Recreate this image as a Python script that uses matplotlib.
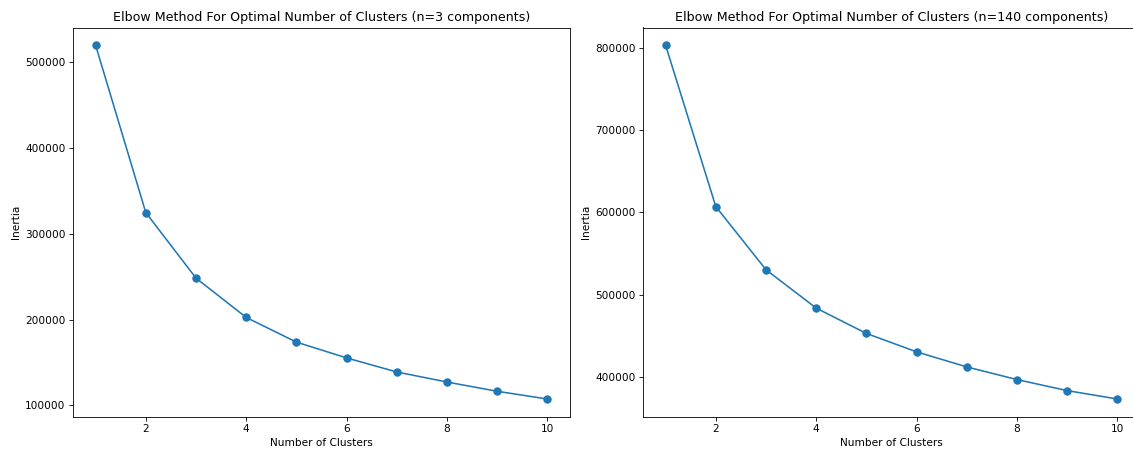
import matplotlib
matplotlib.use("Agg")
import matplotlib.pyplot as plt

# number of clusters tried
k_values = [1, 2, 3, 4, 5, 6, 7, 8, 9, 10]

# inertia
inertia_3 = [519900, 324800, 248400, 202600, 173800, 155400, 139000, 127300, 116500, 107500]
inertia_140 = [803200, 607100, 530300, 483700, 452900, 430500, 412200, 396800, 383400, 373200]

n_components = [3, 140]

W, H = 1133, 450
DPI = 75.5
fig = plt.figure(figsize=(W / DPI, H / DPI), dpi=DPI)

# axes boxes in pixels: left, bottom(from top), width, height
boxes = [(73, 416.7, 497, 389.2), (643, 416.7, 497, 389.2)]

for (x0, yb, w, h), n, inertia in zip(boxes, n_components, [inertia_3, inertia_140]):
    ax = fig.add_axes([x0 / W, (H - yb) / H, w / W, h / H])
    ax.plot(k_values, inertia, marker='o', markersize=7)
    ax.set_title("Elbow Method For Optimal Number of Clusters (n=%d components)" % n)
    ax.set_xlabel("Number of Clusters")
    ax.set_ylabel("Inertia")

fig.savefig("out.png", dpi=DPI)
